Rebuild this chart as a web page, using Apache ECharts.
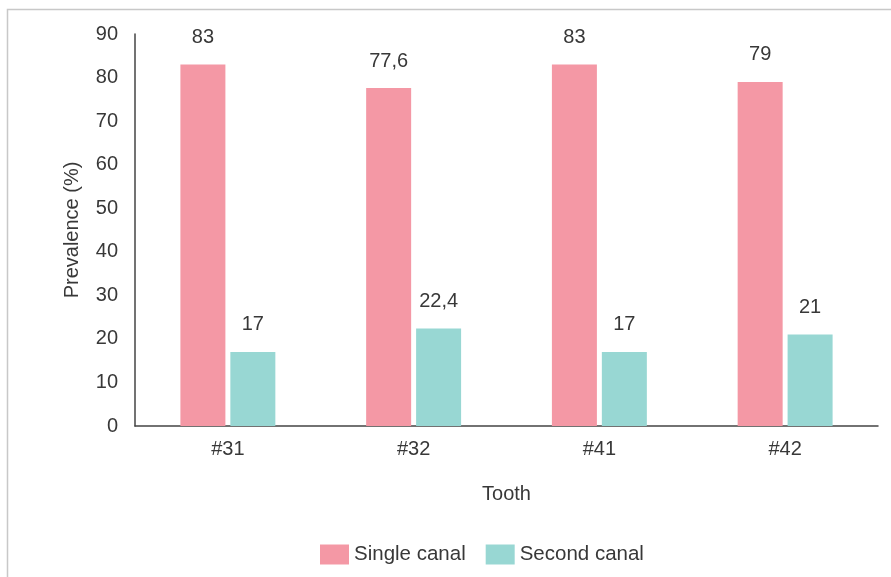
<!DOCTYPE html>
<html>
<head>
<meta charset="utf-8">
<script src="https://cdn.jsdelivr.net/npm/echarts@6/dist/echarts.min.js"></script>
<style>
  html, body { margin: 0; padding: 0; background: #fff; }
  #chart { width: 891px; height: 577px; }
</style>
</head>
<body>
<div id="chart"></div>
<script>
// Canal configuration prevalence per tooth
const teeth = ['#31', '#32', '#41', '#42'];
const singleCanal = [83, 77.6, 83, 79];
const secondCanal = [17, 22.4, 17, 21];
const yTicks = [0, 10, 20, 30, 40, 50, 60, 70, 80, 90];

const FONT = '"Liberation Sans", Arial, sans-serif';
const TEXT = '#383838';

// Decimal comma for value labels
const fmt = p => String(p.value).replace('.', ',');

const chart = echarts.init(document.getElementById('chart'));
chart.setOption({
  animation: false,
  textStyle: { fontFamily: FONT },
  graphic: [{
    type: 'rect',
    shape: { x: 7.5, y: 9.5, width: 900, height: 600 },
    style: { fill: 'none', stroke: '#c8c8c8', lineWidth: 1.5 },
    silent: true
  }],
  grid: { left: 135, right: 13, top: 34, bottom: 151 },
  legend: {
    bottom: 7,
    left: 315,
    icon: 'rect',
    itemWidth: 29,
    itemHeight: 20,
    itemGap: 20,
    textStyle: { fontFamily: FONT, fontSize: 20.5, color: TEXT },
    data: ['Single canal', 'Second canal']
  },
  xAxis: {
    type: 'category',
    data: teeth,
    name: 'Tooth',
    nameLocation: 'middle',
    nameGap: 58,
    nameTextStyle: { fontFamily: FONT, fontSize: 20, color: TEXT },
    axisLine: { lineStyle: { color: '#444', width: 1.5 } },
    axisTick: { show: false },
    axisLabel: { fontFamily: FONT, fontSize: 20, color: TEXT, margin: 13 }
  },
  yAxis: {
    type: 'value',
    min: yTicks[0],
    max: yTicks[yTicks.length - 1],
    interval: 10,
    name: 'Prevalence (%)',
    nameLocation: 'middle',
    nameGap: 53,
    nameTextStyle: { fontFamily: FONT, fontSize: 20, color: TEXT },
    axisLine: { show: true, lineStyle: { color: '#444', width: 1.5 } },
    axisTick: { show: false },
    splitLine: { show: false },
    axisLabel: { fontFamily: FONT, fontSize: 20, color: TEXT, margin: 17 }
  },
  series: [
    {
      name: 'Single canal',
      type: 'bar',
      data: singleCanal,
      barWidth: 45,
      barGap: '11%',
      itemStyle: { color: '#F498A5' },
      label: {
        show: true, position: 'top', distance: 17,
        formatter: fmt, fontFamily: FONT, fontSize: 20, color: TEXT
      }
    },
    {
      name: 'Second canal',
      type: 'bar',
      data: secondCanal,
      barWidth: 45,
      itemStyle: { color: '#98D7D3' },
      label: {
        show: true, position: 'top', distance: 17,
        formatter: fmt, fontFamily: FONT, fontSize: 20, color: TEXT
      }
    }
  ]
});
</script>
</body>
</html>
